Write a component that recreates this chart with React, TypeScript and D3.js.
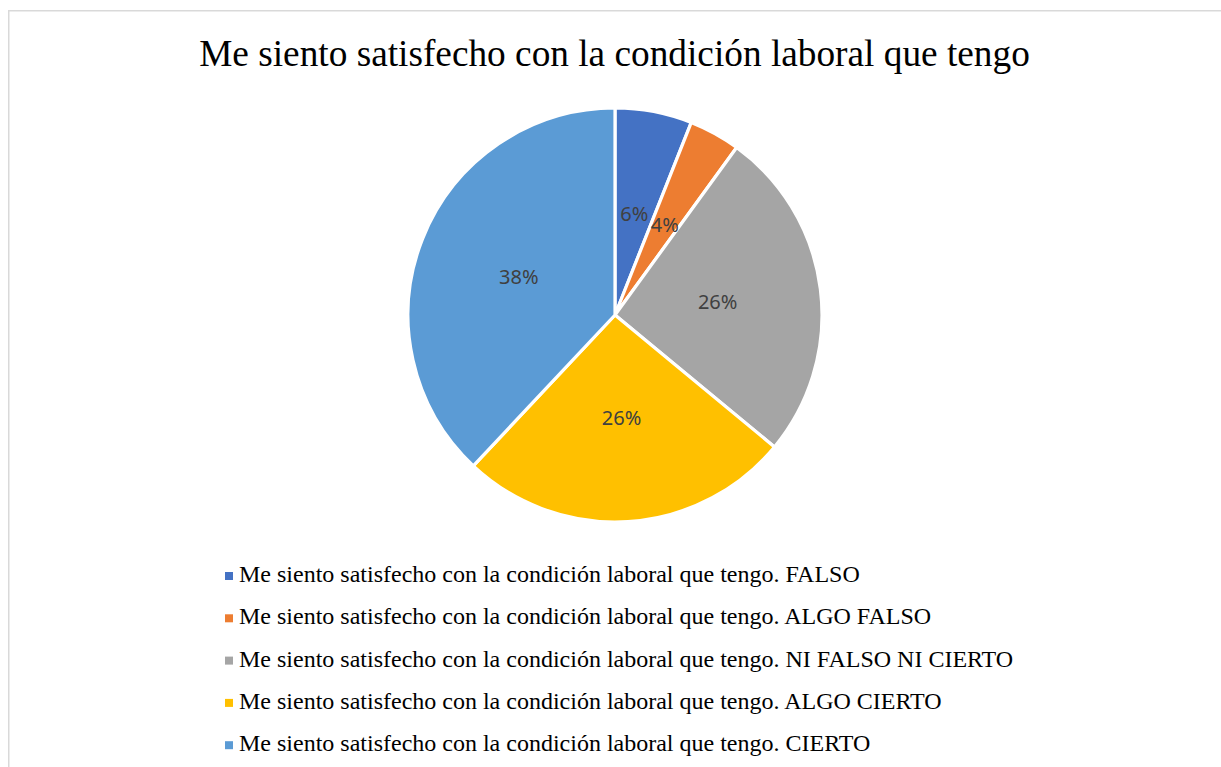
import * as d3 from "d3";
import { useEffect, useRef } from "react";

// survey answers (count of respondents, n = 50)
const categories = ["FALSO", "ALGO FALSO", "NI FALSO NI CIERTO", "ALGO CIERTO", "CIERTO"];
const counts = [3, 2, 13, 13, 19];
const colors = ["#4472C4", "#ED7D31", "#A5A5A5", "#FFC000", "#5B9BD5"];
const title = "Me siento satisfecho con la condición laboral que tengo";

export default function App() {
    const refSvg = useRef<SVGSVGElement>(null);

    useEffect(() => {
        const svg = d3.select(refSvg.current);
        svg.selectAll("*").remove();

        const cx = 615;
        const cy = 315;
        const radius = 207;

        // chart frame
        svg.append("rect")
            .attr("x", 8.75)
            .attr("y", 10.75)
            .attr("width", 1400)
            .attr("height", 900)
            .attr("fill", "none")
            .attr("stroke", "#d9d9d9")
            .attr("stroke-width", 1.5);

        svg.append("text")
            .text(title)
            .attr("x", 614.5)
            .attr("y", 66)
            .attr("text-anchor", "middle")
            .attr("font-family", "'Liberation Serif', 'Times New Roman', serif")
            .attr("font-size", 37.3)
            .attr("fill", "#000");

        //    ---------------   PIE  ------------------------
        const data = categories.map((c, i) => ({ cat: c, value: counts[i], color: colors[i] }));
        const total = d3.sum(counts);

        const pie = d3.pie<any>().sort(null).value((d) => d.value);
        const arc = d3.arc<any>().innerRadius(0).outerRadius(radius);

        const gPie = svg.append("g").attr("transform", `translate(${cx},${cy})`);
        const arcs = pie(data);

        gPie.selectAll("path")
            .data(arcs)
            .join("path")
            .attr("d", arc)
            .attr("fill", (d) => d.data.color)
            .attr("stroke", "#fff")
            .attr("stroke-width", 3.2)
            .attr("stroke-linejoin", "round");

        gPie.selectAll("text")
            .data(arcs)
            .join("text")
            .attr("transform", (d) => `translate(${arc.centroid(d)})`)
            .attr("text-anchor", "middle")
            .attr("dy", "0.36em")
            .attr("font-family", "'Noto Sans', 'Open Sans', sans-serif")
            .attr("font-size", 20)
            .attr("fill", "#404040")
            .text((d) => `${Math.round((d.data.value / total) * 100)}%`);

        //    ---------------   LEGEND  ------------------------
        const gLegend = svg.append("g").attr("transform", "translate(225,582)");
        const row = gLegend.selectAll("g")
            .data(data)
            .join("g")
            .attr("transform", (d, i) => `translate(0,${i * 42.3})`);

        row.append("rect")
            .attr("x", 0)
            .attr("y", -10)
            .attr("width", 8)
            .attr("height", 8)
            .attr("fill", (d) => d.color);

        row.append("text")
            .attr("x", 14)
            .attr("y", 0)
            .attr("font-family", "'Liberation Serif', 'Times New Roman', serif")
            .attr("font-size", 24)
            .attr("fill", "#000")
            .text((d) => `${title}. ${d.cat}`);
    }, []);

    return (
        <svg
            ref={refSvg}
            width={1221}
            height={767}
            style={{ position: "absolute", left: 0, top: 0, background: "#fff" }}
        />
    );
}
